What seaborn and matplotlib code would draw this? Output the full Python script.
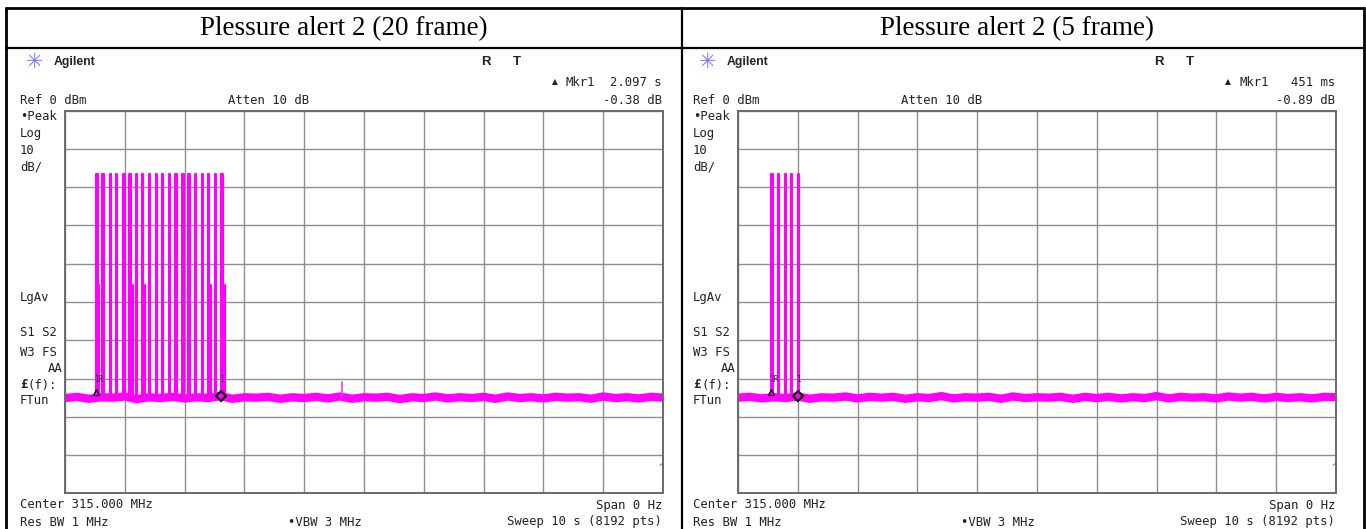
import numpy as np
import pandas as pd
import matplotlib
matplotlib.use("Agg")
import matplotlib.pyplot as plt
from matplotlib.lines import Line2D
import seaborn as sns

# ---- data ----
titles = ["Plessure alert 2 (20 frame)", "Plessure alert 2 (5 frame)"]
mkr_time = ["2.097 s", "451 ms"]
mkr_level = ["-0.38 dB", "-0.89 dB"]

# pulse positions (s) and peak levels (dBm)
pulses_20 = [0.520, 0.624, 0.747, 0.848, 0.975, 1.075, 1.187, 1.288, 1.405, 1.517,
             1.622, 1.739, 1.845, 1.962, 2.062, 2.174, 2.291, 2.391, 2.503, 2.617]
pulses_5 = [0.553, 0.669, 0.781, 0.882, 1.004]
peak_db = -16.5
# pulses that also show a short lower edge (index, level)
short_edges_20 = [(0, -45.5), (5, -45.5), (7, -45.5), (17, -45.5), (19, -45.5)]
short_edges_5 = []

# noise floor, sampled every 0.2 s over the 10 s sweep
noise_20 = [-75.1, -74.8, -75.3, -74.9, -75.0, -74.7, -75.4, -74.9, -75.1, -74.8,
            -75.2, -74.9, -75.1, -74.6, -75.3, -74.9, -75.0, -74.8, -75.3, -74.9,
            -75.1, -74.8, -75.2, -74.7, -75.3, -74.9, -75.0, -74.8, -75.4, -74.9,
            -75.1, -74.7, -75.2, -74.9, -75.1, -74.8, -75.3, -74.7, -75.1, -74.9,
            -75.2, -74.8, -75.0, -74.9, -75.3, -74.7, -75.1, -74.9, -75.2, -74.8, -75.0]
noise_5 = [-75.0, -74.8, -75.2, -74.9, -75.1, -74.7, -75.3, -74.9, -75.0, -74.7,
           -75.2, -74.8, -75.0, -74.8, -75.3, -74.9, -75.1, -74.6, -75.2, -74.9,
           -75.0, -74.8, -75.3, -74.7, -75.1, -74.9, -75.0, -74.8, -75.3, -74.8,
           -75.1, -74.8, -75.2, -74.9, -75.1, -74.6, -75.2, -74.8, -75.0, -74.9,
           -75.2, -74.7, -75.0, -74.8, -75.2, -74.8, -75.1, -74.9, -75.2, -74.8, -74.9]
noise_t = np.linspace(0, 10, 51)
spike_20 = (4.627, -71.0)

W, H = 1366, 529
sns.set_style("white")
plt.rcParams["font.family"] = ["DejaVu Sans Mono"]

fig = plt.figure(figsize=(W / 100, H / 100), dpi=100)


def fx(x):
    return x / W


def fy(y):
    return 1 - y / H


def txt(x, y, s, **kw):
    kw.setdefault("fontsize", 8.8)
    kw.setdefault("va", "center")
    kw.setdefault("color", "#222222")
    fig.text(fx(x), fy(y), s, **kw)


def hline(y, x0, x1, lw=1.5):
    fig.add_artist(Line2D([fx(x0), fx(x1)], [fy(y), fy(y)], color="black", lw=lw))


def vline(x, y0, y1, lw=1.5):
    fig.add_artist(Line2D([fx(x), fx(x)], [fy(y0), fy(y1)], color="black", lw=lw))


def pulse_frame(pulses, edges):
    rows = []
    w = 0.024
    for i, t in enumerate(pulses):
        for tt, db in [(t, -75), (t, peak_db), (t + w, peak_db), (t + w, -75)]:
            rows.append({"t": tt, "db": db, "unit": f"p{i}"})
    for i, db in edges:
        t = pulses[i] + 2.3 * w
        for tt, d in [(t, -75), (t, db)]:
            rows.append({"t": tt, "db": d, "unit": f"e{i}"})
    return pd.DataFrame(rows)


panels = [
    (0, titles[0], mkr_time[0], mkr_level[0], pulses_20, short_edges_20, noise_20, spike_20),
    (673, titles[1], mkr_time[1], mkr_level[1], pulses_5, short_edges_5, noise_5, None),
]

gy0, gy1 = 110.7, 493.3
for off, title, mt, ml, pulses, edges, noise, spike in panels:
    gx0, gx1 = 65 + off, 663 + off
    ax = fig.add_axes([fx(gx0), fy(gy1), fx(gx1) - fx(gx0), fy(gy0) - fy(gy1)])
    ax.set_xlim(0, 10)
    ax.set_ylim(-100, 0)
    ax.set_xticks(np.arange(0, 11, 1))
    ax.set_yticks(np.arange(-100, 1, 10))
    ax.grid(True, color="#8f8f8f", lw=1.0)
    ax.tick_params(length=0, labelbottom=False, labelleft=False)
    for sp in ax.spines.values():
        sp.set_color("#6a6a6a")
        sp.set_linewidth(1.4)

    base = pd.DataFrame({"t": noise_t, "db": noise})
    sns.lineplot(data=base, x="t", y="db", ax=ax, color="#ff00ff", lw=6.0,
                 estimator=None, sort=False)
    if spike is not None:
        sdf = pd.DataFrame({"t": [spike[0], spike[0]], "db": [-75, spike[1]]})
        sns.lineplot(data=sdf, x="t", y="db", ax=ax, color="#ff33ff", lw=1.2,
                     estimator=None, sort=False)
    pdf = pulse_frame(pulses, edges)
    sns.lineplot(data=pdf, x="t", y="db", units="unit", ax=ax, color="#ff00ff",
                 lw=1.5, estimator=None, sort=False)

    # markers: 1R reference at first pulse, delta marker at last pulse
    ax.plot([pulses[0]], [-73.6], marker="^", ms=5, mfc="none", mec="black", mew=0.9)
    ax.text(pulses[0] + 0.05, -70.3, "1R", fontsize=5.5, ha="center", va="center")
    ax.plot([pulses[-1]], [-74.5], marker="D", ms=5.5, mfc="none", mec="black", mew=1.5)
    ax.text(pulses[-1], -70.3, "1", fontsize=5.5, ha="center", va="center")
    ax.set_xlabel("")
    ax.set_ylabel("")

    # title row
    txt(344 + off, 29, title, fontsize=19.5, ha="center",
        family="Liberation Serif", color="black")

    # screen annotations
    txt(35 + off, 62, "\u2733", fontsize=15, ha="center", color="#7a7aff",
        family="DejaVu Sans")
    txt(54 + off, 62, "Agilent", fontsize=8.8, fontweight="bold",
        family="Liberation Sans")
    txt(486 + off, 62, "R", fontsize=9.5, ha="center", fontweight="bold",
        family="Liberation Sans")
    txt(517 + off, 62, "T", fontsize=9.5, ha="center", fontweight="bold",
        family="Liberation Sans")
    txt(555 + off, 82, "\u25b2", fontsize=5.5, ha="center", family="DejaVu Sans")
    txt(566 + off, 82, "Mkr1")
    txt(662 + off, 82, mt, ha="right")
    txt(662 + off, 100, ml, ha="right")
    txt(20 + off, 100, "Ref 0 dBm")
    txt(228 + off, 100, "Atten 10 dB")
    for y, s in [(117, "\u2022Peak"), (133, "Log"), (150, "10"), (167, "dB/"),
                 (298, "LgAv"), (333, "S1 S2"), (352, "W3 FS"), (400, "FTun")]:
        txt(20 + off, y, s)
    txt(63 + off, 368, "AA", ha="right")
    txt(20 + off, 385, "\u00a3", fontweight="bold")
    txt(28 + off, 385, "(f):")
    txt(661 + off, 467, "^", fontsize=6, ha="center", color="#555555")
    txt(20 + off, 505, "Center 315.000 MHz")
    txt(662 + off, 505, "Span 0 Hz", ha="right")
    txt(20 + off, 522, "Res BW 1 MHz")
    txt(288 + off, 522, "\u2022VBW 3 MHz")
    txt(662 + off, 522, "Sweep 10 s (8192 pts)", ha="right")

# table borders
hline(8, 6, 1364, lw=2.0)
hline(48, 6, 1364, lw=1.6)
vline(6, 8, 529, lw=2.0)
vline(682, 8, 529, lw=1.6)
vline(1364, 8, 529, lw=2.0)

fig.savefig("out.png", dpi=100, facecolor="white")
